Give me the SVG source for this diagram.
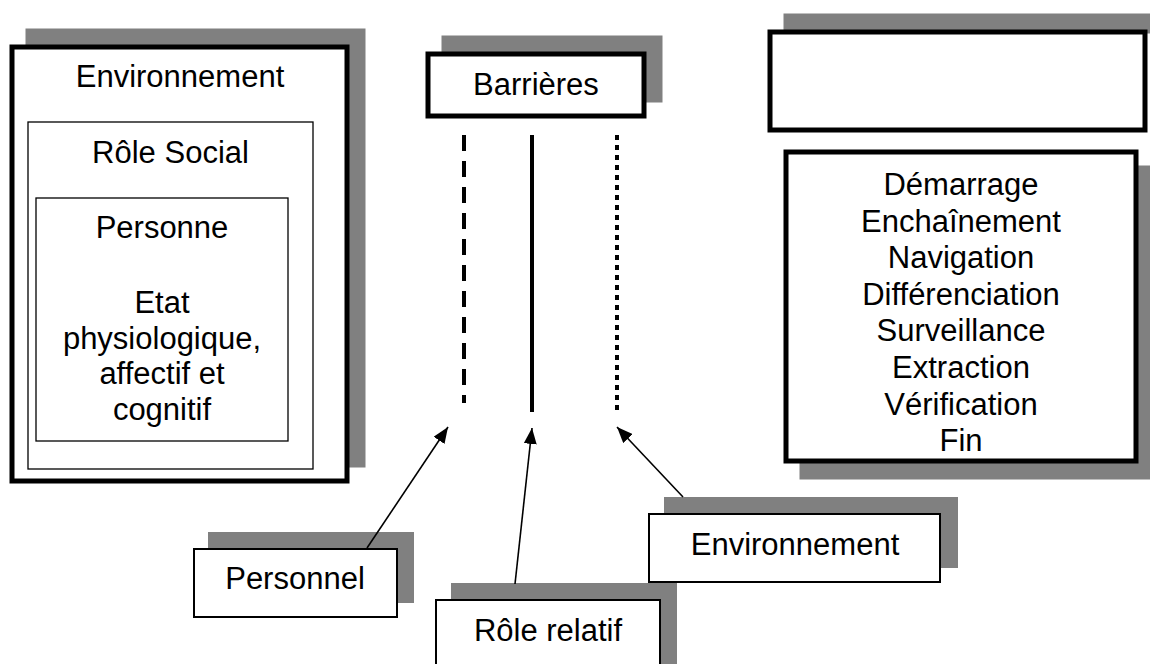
<svg xmlns="http://www.w3.org/2000/svg" width="1150" height="664" viewBox="0 0 1150 664">
<style>
  text { font-family: "Liberation Sans", Arial, sans-serif; font-size: 31px; fill: #000; text-anchor: middle; }
  .shadow { fill: #808080; stroke: none; }
  .thick { fill: #fff; stroke: #000; stroke-width: 5; }
  .thin { fill: #fff; stroke: #000; stroke-width: 2; }
  .inner { fill: none; stroke: #000; stroke-width: 1.3; }
  .bar { stroke: #000; stroke-width: 4; fill: none; }
  .conn { stroke: #000; stroke-width: 1.6; fill: none; marker-end: url(#arrow); }
</style>
<defs>
  <marker id="arrow" markerUnits="userSpaceOnUse" markerWidth="17" markerHeight="13" refX="16" refY="6.5" orient="auto">
    <path d="M0,0 L16,6.5 L0,13 z" fill="#000"/>
  </marker>
</defs>
<rect width="1150" height="664" fill="#fff"/>

<g id="left-box">
  <rect class="shadow" x="25.5" y="28.5" width="340" height="439"/>
  <rect class="thick" x="12" y="47" width="335" height="434"/>
  <text x="180" y="87">Environnement</text>
  <rect class="inner" x="28" y="122" width="285" height="347"/>
  <text x="170.5" y="163">Rôle Social</text>
  <rect class="inner" x="36" y="198" width="252" height="243"/>
  <text x="162" y="238">Personne</text>
  <text x="162" y="313">Etat</text>
  <text x="162" y="349">physiologique,</text>
  <text x="162" y="384">affectif et</text>
  <text x="162" y="420">cognitif</text>
</g>

<g id="barrieres">
  <rect class="shadow" x="441.5" y="35.5" width="221" height="67"/>
  <rect class="thick" x="428" y="54" width="216" height="62"/>
  <text x="536" y="95">Barrières</text>
</g>

<g id="top-right-box">
  <rect class="shadow" x="783.5" y="13.5" width="367" height="20"/>
  <rect class="thick" x="770" y="32" width="375" height="98"/>
</g>

<g id="steps">
  <rect class="shadow" x="799.5" y="165.5" width="400" height="314"/>
  <rect class="thick" x="786" y="152" width="350" height="309"/>
  <text x="961" y="195">Démarrage</text>
  <text x="961" y="231.6">Enchaînement</text>
  <text x="961" y="268.2">Navigation</text>
  <text x="961" y="304.8">Différenciation</text>
  <text x="961" y="341.4">Surveillance</text>
  <text x="961" y="378">Extraction</text>
  <text x="961" y="414.6">Vérification</text>
  <text x="961" y="451.2">Fin</text>
</g>

<g id="barrier-lines">
  <line class="bar" x1="464" y1="135" x2="464" y2="403" stroke-dasharray="16 10"/>
  <line class="bar" x1="532" y1="135" x2="532" y2="412"/>
  <line class="bar" x1="617" y1="135" x2="617" y2="412" stroke-dasharray="5 5"/>
</g>

<g id="personnel">
  <rect class="shadow" x="208" y="532" width="206" height="71"/>
  <rect class="thin" x="194" y="549" width="203" height="68"/>
  <text x="295" y="589">Personnel</text>
</g>

<g id="role-relatif">
  <rect class="shadow" x="451" y="583" width="226" height="100"/>
  <rect class="thin" x="436" y="600" width="224" height="80"/>
  <text x="548" y="641">Rôle relatif</text>
</g>

<g id="environnement">
  <rect class="shadow" x="664" y="497" width="294" height="71"/>
  <rect class="thin" x="649" y="514" width="291" height="68"/>
  <text x="795" y="555">Environnement</text>
</g>

<g id="connectors">
  <line class="conn" x1="367" y1="548" x2="448" y2="427"/>
  <line class="conn" x1="515" y1="584" x2="532" y2="428"/>
  <line class="conn" x1="683" y1="497" x2="617" y2="427"/>
</g>
</svg>
